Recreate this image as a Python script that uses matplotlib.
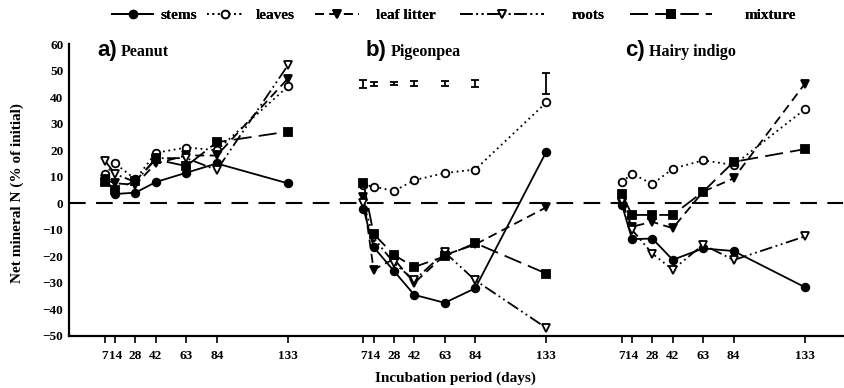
import matplotlib.pyplot as plt
from matplotlib.lines import Line2D

# incubation days, same for every panel
days = [7, 14, 28, 42, 63, 84, 133]
panel_offset = 178  # horizontal gap (in day units) between the three panels

panels = ["Peanut", "Pigeonpea", "Hairy indigo"]
panel_letters = ["a)", "b)", "c)"]
panel_label_x = [1.5, 186.8, 365]

# net mineral N (% of initial), one list per residue per panel
stems = [
    [10, 3.5, 4, 8, 11.5, 15, 7.5],
    [-2, -16.5, -25.5, -34.5, -37.5, -32, 19.5],
    [-0.5, -13.5, -13.3, -21.3, -17, -18, -31.6],
]
leaves = [
    [11, 15, 9, 19, 21, 20, 44],
    [7, 6.3, 4.6, 8.7, 11.4, 12.7, 38],
    [8, 11.2, 7.2, 13, 16.2, 14.4, 35.4],
]
leaf_litter = [
    [9, 7.5, 7, 15, 18, 18, 47],
    [2.5, -25, -21, -30, -19.5, -15.5, -1.5],
    [0, -8.8, -7, -9.4, 4.4, 9.4, 45],
]
roots = [
    [16, 11, 8, 17, 17, 12.5, 52],
    [0, -13, -22.5, -29, -18.5, -29, -47],
    [1, -10, -19, -25, -15.6, -21.4, -12.5],
]
mixture = [
    [8, 5, 8.5, 16.5, 14, 23, 27],
    [7.6, -11.5, -19.5, -24, -20, -15, -26.5],
    [3.5, -4.4, -4.4, -4.4, 4.4, 15.6, 20.4],
]

# LSD bars shown in panel b
err_y = 45
err_half = [1.5, 0.8, 0.5, 1, 1, 1.3, 4]

series = [
    ("stems", stems, dict(ls="-", marker="o", mfc="black")),
    ("leaves", leaves, dict(ls=(0, (1, 2)), marker="o", mfc="white")),
    ("leaf litter", leaf_litter, dict(ls=(0, (5, 3)), marker="v", mfc="black")),
    ("roots", roots, dict(ls=(0, (7, 2, 1, 2, 1, 2)), marker="v", mfc="white")),
    ("mixture", mixture, dict(ls=(0, (10, 4)), marker="s", mfc="black")),
]

# legend layout (left edge in px, handle length, gap to text), one per entry
leg_left = [112, 207, 315, 460, 630]
leg_hlen = [2.7, 2.3, 2.9, 5.5, 5.4]
leg_pad = [0.5, 0.9, 1.1, 1.8, 2.1]

serif = "Liberation Serif"
plt.rcParams["font.family"] = serif
plt.rcParams["font.weight"] = "bold"

fig = plt.figure(figsize=(8.45, 3.88), dpi=100)
ax = fig.add_axes([69 / 845, 1 - 336 / 388, (843 - 69) / 845, (336 - 44) / 388])

for p in range(3):
    xs = [d + p * panel_offset for d in days]
    for name, data, style in series:
        ax.plot(xs, data[p], color="black", lw=1.3, ms=5.5, mec="black", mew=1.3,
                ls=style["ls"], marker=style["marker"], mfc=style["mfc"])

# error bars in panel b
ax.errorbar([d + panel_offset for d in days], [err_y] * len(days), yerr=err_half,
            fmt="none", ecolor="black", elinewidth=1.3, capsize=3, capthick=1.3)

ax.axhline(0, color="black", lw=1.5, ls=(0, (8, 5)))

ax.set_xlim(-17.8, 515.3)
ax.set_ylim(-50, 60)
ax.set_yticks(range(-50, 61, 10))

xt = []
xl = []
for p in range(3):
    for d in days:
        xt.append(d + p * panel_offset)
        xl.append(str(d))
ax.set_xticks(xt)
ax.set_xticklabels(xl)
ax.tick_params(axis="x", length=5, width=1.2, pad=5, labelsize=9.5)
ax.tick_params(axis="y", length=0, pad=4, labelsize=9.5)

for s in ["top", "right"]:
    ax.spines[s].set_visible(False)
for s in ["left", "bottom"]:
    ax.spines[s].set_linewidth(1.6)

ax.set_ylabel("Net mineral N (% of initial)", fontsize=11, fontweight="bold")
ax.yaxis.set_label_coords((24 - 69) / 774, 0.49)
ax.set_xlabel("Incubation period (days)", fontsize=11, fontweight="bold")
ax.xaxis.set_label_coords((455 - 69) / 774, (336 - 372) / 292)

for p in range(3):
    t = ax.text(panel_label_x[p], 57.5, panel_letters[p], family="Liberation Sans",
                fontsize=16, fontweight="bold", va="center", ha="left")
    ax.annotate(panels[p], xy=(1, 0.5), xycoords=t, xytext=(3, -1),
                textcoords="offset points", va="center", ha="left",
                fontsize=11.5, fontweight="bold")

for i, (name, data, style) in enumerate(series):
    h = Line2D([], [], color="black", lw=1.3, ms=5.5, mec="black", mew=1.3,
               ls=style["ls"], marker=style["marker"], mfc=style["mfc"], label=name)
    leg = fig.legend(handles=[h], loc="center left",
                     bbox_to_anchor=(leg_left[i] / 845, 1 - 15 / 388),
                     frameon=False, borderpad=0, borderaxespad=0,
                     handlelength=leg_hlen[i], handletextpad=leg_pad[i],
                     prop={"family": serif, "weight": "bold", "size": 11})
    fig.add_artist(leg)

fig.savefig("out.png", dpi=100)
